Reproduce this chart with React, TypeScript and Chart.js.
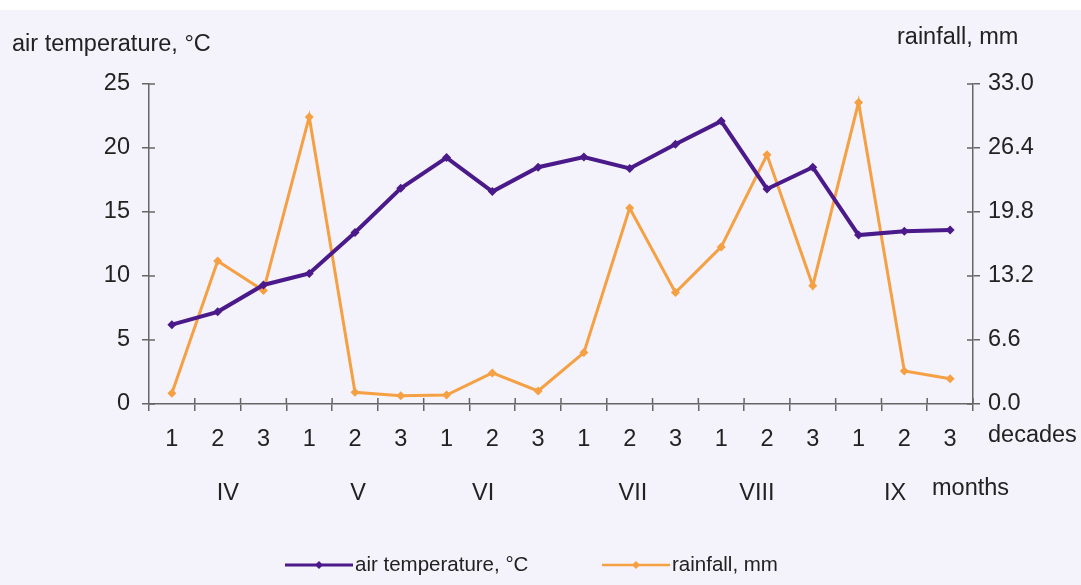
import React, { useEffect, useRef } from "react";
import { Chart, registerables } from "chart.js";

Chart.register(...registerables);

// ---- data ----
const decades = ["1", "2", "3", "1", "2", "3", "1", "2", "3", "1", "2", "3", "1", "2", "3", "1", "2", "3"];
const months = ["IV", "V", "VI", "VII", "VIII", "IX"];
const airTemperature = [6.2, 7.2, 9.3, 10.2, 13.4, 16.85, 19.25, 16.6, 18.5, 19.3, 18.4, 20.3, 22.1, 16.8, 18.5, 13.2, 13.5, 13.6];
const rainfall = [1.1, 14.75, 11.7, 29.6, 1.2, 0.86, 0.93, 3.2, 1.34, 5.3, 20.2, 11.5, 16.2, 25.7, 12.2, 31.1, 3.4, 2.6];
const tempTicks = [0, 5, 10, 15, 20, 25];
const rainTicks = [0, 6.6, 13.2, 19.8, 26.4, 33.0];

const tempLabel = "air temperature, °C";
const rainLabel = "rainfall, mm";

// ---- layout / style ----
const W = 1081;
const H = 585;
const FONT = "'Liberation Sans', Arial, sans-serif";
const FONT_SIZE = 23.5;
const LEGEND_FONT_SIZE = 20.5;
const TEXT = "#222";
const AXIS = "#666";
const PURPLE = "#4a1a8a";
const ORANGE = "#f5a043";
const BG = "#f4f2fa";
// month label shift relative to the middle decade (category units)
const monthShift = [0.22, 0.07, -0.2, 0.07, -0.22, -0.2];

const decorPlugin = {
  id: "decor",
  beforeDraw(chart: any) {
    const ctx = chart.ctx;
    ctx.save();
    ctx.fillStyle = "#ffffff";
    ctx.fillRect(0, 0, W, H);
    ctx.fillStyle = BG;
    ctx.fillRect(0, 10, W, H - 10);
    ctx.restore();
  },
  afterDraw(chart: any) {
    const ctx = chart.ctx;
    const x = chart.scales.x;
    const y = chart.scales.y;
    const y1 = chart.scales.y1;
    ctx.save();
    // inward half of crossing ticks
    ctx.strokeStyle = AXIS;
    ctx.lineWidth = 1.5;
    ctx.beginPath();
    for (let i = 1; i <= decades.length; i++) {
      const px = x.getPixelForValue(i - 0.5);
      ctx.moveTo(px, x.top);
      ctx.lineTo(px, x.top - 6);
    }
    for (const t of tempTicks) {
      const py = y.getPixelForValue(t);
      ctx.moveTo(y.right, py);
      ctx.lineTo(y.right + 6, py);
    }
    for (const t of rainTicks) {
      const py = y1.getPixelForValue(t);
      ctx.moveTo(y1.left, py);
      ctx.lineTo(y1.left - 6, py);
    }
    ctx.stroke();

    ctx.fillStyle = TEXT;
    ctx.font = `${FONT_SIZE}px ${FONT}`;
    ctx.textBaseline = "middle";
    ctx.textAlign = "left";
    ctx.fillText(tempLabel, 12, 45);
    ctx.fillText(rainLabel, 897, 38);
    ctx.fillText("decades", x.right + 15, 436);
    ctx.fillText("months", 932, 489);

    ctx.textAlign = "center";
    months.forEach((m, k) => {
      const px = x.getPixelForValue(k * 3 + 1 + monthShift[k]);
      ctx.fillText(m, px, 494);
    });

    // legend
    ctx.font = `${LEGEND_FONT_SIZE}px ${FONT}`;
    const items = chart.data.datasets.map((d: any) => ({ label: d.label, color: d.borderColor }));
    const starts = [285, 602];
    const ly = 565;
    items.forEach((it: any, k: number) => {
      const sx = starts[k];
      ctx.strokeStyle = it.color;
      ctx.lineWidth = k === 0 ? 3 : 2.5;
      ctx.beginPath();
      ctx.moveTo(sx, ly);
      ctx.lineTo(sx + 68, ly);
      ctx.stroke();
      ctx.fillStyle = it.color;
      ctx.beginPath();
      const cx = sx + 34;
      ctx.moveTo(cx, ly - 4);
      ctx.lineTo(cx + 4, ly);
      ctx.lineTo(cx, ly + 4);
      ctx.lineTo(cx - 4, ly);
      ctx.closePath();
      ctx.fill();
      ctx.fillStyle = TEXT;
      ctx.textAlign = "left";
      ctx.fillText(it.label, sx + 70, ly);
    });
    ctx.restore();
  },
};

export default function App() {
  const ref = useRef<HTMLCanvasElement | null>(null);

  useEffect(() => {
    document.body.style.margin = "0";
    const canvas = ref.current;
    if (!canvas) return;
    const tickFont = { family: FONT, size: FONT_SIZE };
    const chart = new Chart(canvas, {
      type: "line",
      data: {
        labels: decades,
        datasets: [
          {
            label: tempLabel,
            data: airTemperature,
            yAxisID: "y",
            borderColor: PURPLE,
            backgroundColor: PURPLE,
            borderWidth: 4,
            pointStyle: "rectRot",
            pointRadius: 4.5,
            pointBackgroundColor: PURPLE,
            pointBorderWidth: 0,
            tension: 0,
          },
          {
            label: rainLabel,
            data: rainfall,
            yAxisID: "y1",
            borderColor: ORANGE,
            backgroundColor: ORANGE,
            borderWidth: 3,
            pointStyle: "rectRot",
            pointRadius: 4.5,
            pointBackgroundColor: ORANGE,
            pointBorderWidth: 0,
            tension: 0,
          },
        ],
      },
      options: {
        responsive: false,
        animation: false,
        devicePixelRatio: 1,
        layout: { padding: { top: 84, left: 0, right: 0, bottom: 0 } },
        plugins: { legend: { display: false }, tooltip: { enabled: false } },
        scales: {
          x: {
            type: "category",
            offset: true,
            afterFit: (s: any) => {
              s.height = H - 404;
            },
            border: { color: AXIS, width: 1.5 },
            grid: { offset: true, drawOnChartArea: false, color: AXIS, lineWidth: 1.5, tickLength: 7 },
            ticks: { color: TEXT, font: tickFont, padding: 14, maxRotation: 0, autoSkip: false },
          },
          y: {
            position: "left",
            min: 0,
            max: 25,
            afterFit: (s: any) => {
              s.width = 149;
            },
            afterBuildTicks: (s: any) => {
              s.ticks = tempTicks.map((v) => ({ value: v }));
            },
            border: { color: AXIS, width: 1.5 },
            grid: { drawOnChartArea: false, color: AXIS, lineWidth: 1.5, tickLength: 7 },
            ticks: { color: TEXT, font: tickFont, padding: 12, callback: (v: any) => String(v) },
          },
          y1: {
            position: "right",
            min: 0,
            max: 33,
            afterFit: (s: any) => {
              s.width = W - 973;
            },
            afterBuildTicks: (s: any) => {
              s.ticks = rainTicks.map((v) => ({ value: v }));
            },
            border: { color: AXIS, width: 1.5 },
            grid: { drawOnChartArea: false, color: AXIS, lineWidth: 1.5, tickLength: 7 },
            ticks: { color: TEXT, font: tickFont, padding: 8, callback: (v: any) => Number(v).toFixed(1) },
          },
        },
      },
      plugins: [decorPlugin],
    });
    return () => chart.destroy();
  }, []);

  return (
    <div style={{ width: W, height: H, position: "relative" }}>
      <canvas ref={ref} width={W} height={H} style={{ display: "block", width: W, height: H }} />
    </div>
  );
}
